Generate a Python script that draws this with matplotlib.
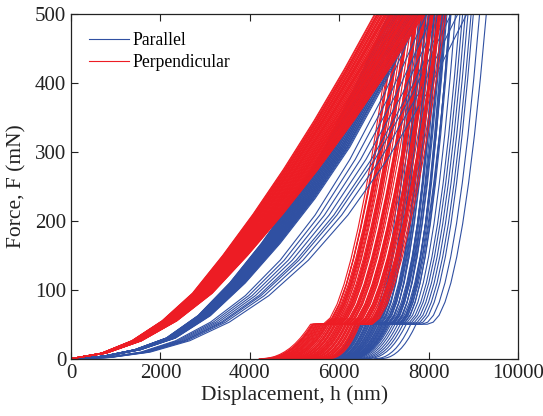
import numpy as np
import matplotlib
matplotlib.use("Agg")
import matplotlib.pyplot as plt

plt.rcParams['font.family'] = ['Liberation Serif', 'DejaVu Serif']

# normalised shapes
s_grid = [0, .1, .2, .3, .4, .5, .6, .7, .8, .9, 1]
load_red = [0, .016, .052, .110, .190, .300, .420, .550, .690, .840, 1]     # F/500
load_blue = [0, .007, .026, .060, .125, .220, .335, .465, .615, .800, 1]
load_soft = [0, .0035, .019, .052, .106, .183, .286, .417, .579, .772, 1]
unload_red = [50, 59, 79, 108, 145, 189, 239, 295, 358, 426, 500]           # mN, 50 -> peak
unload_blue = [50, 53, 63, 82, 110, 148, 196, 255, 325, 407, 500]
tail_F = [0, 0.25, 1.24, 3.13, 6.11, 10.2, 15.4, 22.0, 29.9, 39.3, 50]      # mN, 0 -> 50

F_max = 500
F_hold = 50

# Perpendicular (red): h at end of loading, start of unloading, at 50 mN, final (nm)
red_h_load = [6790, 6840, 6810, 6870, 6850, 6900, 6870, 6940, 6910, 6970,
              6950, 7010, 6980, 7040, 7020, 7070, 7050, 7110, 7080, 7150,
              7120, 7180, 7160, 7210, 7190, 7250, 7220, 7290, 7260, 7330,
              7300, 7360, 7340, 7400, 7370, 7430, 7410, 7470, 7440, 7500,
              7480, 7530, 7510, 7570, 7540, 7610, 7580, 7650, 7620, 7680,
              7660, 7710, 7680, 7750, 7720, 7790, 7750, 7820, 7790, 7850,
              7820, 7890, 7860, 7900]
red_h_unload = [7200, 7290, 7270, 7360, 7240, 7350, 7400, 7370, 7400, 7370,
                7360, 7470, 7410, 7530, 7410, 7520, 7570, 7540, 7570, 7540,
                7530, 7640, 7580, 7710, 7570, 7700, 7740, 7720, 7740, 7720,
                7700, 7820, 7760, 7890, 7750, 7870, 7920, 7890, 7920, 7890,
                7880, 7990, 7930, 8060, 7920, 8040, 8090, 8070, 8080, 8060,
                8050, 8170, 8100, 8230, 8100, 8220, 8260, 8240, 8260, 8240,
                8220, 8340, 8280, 8390]
red_h_50 = [5640, 5670, 5690, 5710, 5700, 5750, 5730, 5780, 5770, 5820,
            5800, 5850, 5830, 5880, 5870, 5920, 5900, 5950, 5940, 5990,
            5970, 6020, 6000, 6060, 6030, 6100, 6070, 6130, 6110, 6170,
            6140, 6200, 6180, 6240, 6210, 6270, 6250, 6300, 6290, 6340,
            6320, 6370, 6350, 6410, 6380, 6440, 6420, 6480, 6450, 6510,
            6490, 6550, 6520, 6580, 6560, 6620, 6590, 6650, 6630, 6690,
            6660, 6720, 6700, 6740]
red_h_final = [4210, 4260, 4280, 4310, 4290, 4370, 4330, 4410, 4390, 4460,
               4430, 4500, 4480, 4550, 4530, 4600, 4570, 4650, 4630, 4700,
               4670, 4740, 4710, 4800, 4760, 4850, 4810, 4900, 4870, 4950,
               4910, 4990, 4970, 5050, 5010, 5090, 5060, 5130, 5120, 5190,
               5160, 5230, 5200, 5290, 5250, 5330, 5300, 5390, 5340, 5430,
               5400, 5480, 5440, 5530, 5500, 5580, 5540, 5620, 5600, 5680,
               5640, 5720, 5690, 5750]
red_hold = 280

# Parallel (blue); the last 8 are the soft ones
blue_h_load = [7100, 7130, 7110, 7150, 7170, 7160, 7200, 7210, 7210, 7250,
               7260, 7250, 7290, 7310, 7300, 7340, 7350, 7350, 7390, 7400,
               7390, 7430, 7450, 7440, 7480, 7490, 7490, 7530, 7540, 7530,
               7570, 7590, 7580, 7620, 7630, 7630, 7670, 7680, 7670, 7710,
               7730, 7740, 7770, 7800,
               7800, 7950, 8100, 8250, 8400, 8500, 8650, 8850]
blue_h_unload = [7650, 7780, 7720, 7860, 7680, 7940, 7840, 7820, 7930, 7800,
                 7840, 7950, 7930, 8050, 7860, 8130, 8020, 8000, 8110, 7990,
                 8020, 8140, 8110, 8230, 8040, 8310, 8200, 8180, 8290, 8170,
                 8200, 8320, 8290, 8410, 8220, 8490, 8380, 8360, 8480, 8340,
                 8380, 8500, 8470, 8600,
                 8700, 8760, 8820, 8880, 8950, 9000, 9140, 9290]
blue_h_50 = [6600, 6630, 6620, 6660, 6680, 6690, 6720, 6740, 6750, 6770,
             6790, 6800, 6830, 6850, 6860, 6880, 6900, 6920, 6930, 6960,
             6970, 6990, 7010, 7030, 7040, 7060, 7080, 7100, 7110, 7140,
             7150, 7170, 7190, 7210, 7220, 7240, 7260, 7280, 7300, 7310,
             7330, 7350, 7370, 7400,
             7450, 7500, 7560, 7620, 7680, 7750, 7850, 7970]
blue_h_final = [5690, 5710, 5700, 5730, 5750, 5750, 5780, 5790, 5800, 5810,
                5830, 5830, 5860, 5870, 5880, 5890, 5910, 5920, 5930, 5950,
                5960, 5970, 5980, 6000, 6010, 6020, 6030, 6050, 6060, 6080,
                6090, 6100, 6110, 6130, 6140, 6150, 6160, 6180, 6190, 6200,
                6210, 6230, 6240, 6260,
                6300, 6360, 6420, 6480, 6550, 6620, 6780, 6900]
blue_soft = 8
blue_hold = 250

red_col = '#ED1C24'
blue_col = '#3050A2'


def curve(h_load, h_unload, h_50, h_final, hold, load_shape, unload_shape):
    s = np.array(s_grid)
    h_b = h_50 - hold
    h = np.concatenate([s * h_load,
                        [h_unload],
                        h_50 + s[::-1] * (h_unload - h_50),
                        [h_b],
                        h_final + s[::-1] * (h_b - h_final)])
    F = np.concatenate([np.array(load_shape) * F_max,
                        [F_max],
                        unload_shape[::-1],
                        [F_hold],
                        tail_F[::-1]])
    return h, F


fig = plt.figure(figsize=(5.43, 4.16), dpi=100)
ax = fig.add_axes([0.1308, 0.1378, 0.8232, 0.8279])

n_blue = len(blue_h_load)
n_red = len(red_h_load)
for i in range(max(n_blue, n_red)):
    if i < n_blue:
        shape = load_soft if i >= n_blue - blue_soft else load_blue
        h, F = curve(blue_h_load[i], blue_h_unload[i], blue_h_50[i],
                     blue_h_final[i], blue_hold, shape, unload_blue)
        ax.plot(h, F, color=blue_col, lw=0.8,
                label='Parallel' if i == 0 else None)
    if i < n_red:
        h, F = curve(red_h_load[i], red_h_unload[i], red_h_50[i],
                     red_h_final[i], red_hold, load_red, unload_red)
        ax.plot(h, F, color=red_col, lw=0.8,
                label='Perpendicular' if i == 0 else None)

ax.set_xlim(0, 10000)
ax.set_ylim(0, 500)
ax.set_xticks([0, 2000, 4000, 6000, 8000, 10000])
ax.set_yticks([0, 100, 200, 300, 400, 500])
ax.tick_params(direction='in', top=True, right=True, labelsize=15, length=5,
               color='#222222', labelcolor='#222222')
ax.set_xlabel('Displacement, h (nm)', fontsize=15.5, labelpad=2, color='#222222')
ax.set_ylabel('Force, F (mN)', fontsize=15.5, labelpad=6, color='#222222')
for sp in ax.spines.values():
    sp.set_color('#222222')
    sp.set_linewidth(0.9)

ax.legend(loc='upper left', frameon=False, fontsize=12.7, handlelength=2.3,
          handletextpad=0.2, labelspacing=0.3, borderaxespad=0.6)

fig.savefig('out.png', dpi=100)
